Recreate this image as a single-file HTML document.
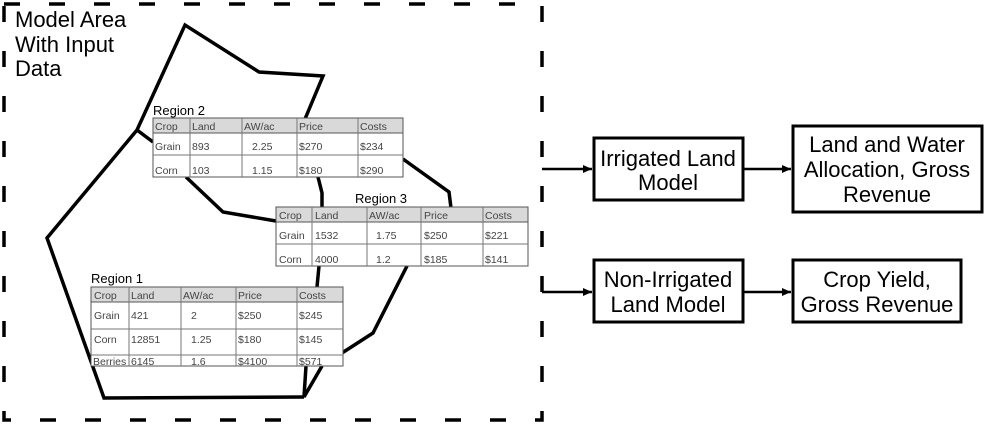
<!DOCTYPE html>
<html><head><style>
html,body{margin:0;padding:0;background:#fff;}
svg{display:block;}
.t{font-family:"Liberation Sans",sans-serif;}
</style></head><body>
<svg width="1000" height="436" viewBox="0 0 1000 436" xmlns="http://www.w3.org/2000/svg">
<defs>
<marker id="ah" markerWidth="10" markerHeight="10" refX="9" refY="5" orient="auto" markerUnits="userSpaceOnUse">
<path d="M0,1 L9,5 L0,9 Z" fill="#000"/>
</marker>
</defs>
<rect x="4" y="4" width="538" height="416" fill="none" stroke="#000" stroke-width="3.5" stroke-dasharray="16 29"/>
<text class="t" x="15" y="27" font-size="22">Model Area</text>
<text class="t" x="15" y="52" font-size="22">With Input</text>
<text class="t" x="15" y="76" font-size="22">Data</text>

<g fill="none" stroke="#000" stroke-width="3.5" stroke-linejoin="miter">
<polyline points="305,119 323,76 259,72 185,25 137,130 47,238 104,398 304,397"/>
<polyline points="137,130 153,142"/>
<polyline points="186,177 223,212 276,221"/>
<polyline points="318,177 322,193 322,208"/>
<polyline points="403,159 449,192 451,208"/>
<polyline points="407,266 373,333 342,353"/>
<polyline points="319,266 317,287"/>
<polyline points="306,366 304,397 322,366"/>
</g>

<text class="t" x="153" y="115" font-size="13">Region 2</text>
<g class="t" font-size="10.5" fill="#444">
<rect x="153" y="118" width="250" height="59" fill="#fff" stroke="#555"/>
<rect x="153" y="118" width="250" height="15" fill="#d9d9d9" stroke="#555"/>
<line x1="153" y1="155" x2="403" y2="155" stroke="#777"/>
<g stroke="#777"><line x1="190" y1="118" x2="190" y2="177"/><line x1="242" y1="118" x2="242" y2="177"/><line x1="297" y1="118" x2="297" y2="177"/><line x1="358" y1="118" x2="358" y2="177"/></g>
<text x="155" y="130">Crop</text><text x="192" y="130">Land</text><text x="244" y="130">AW/ac</text><text x="299" y="130">Price</text><text x="360" y="130">Costs</text>
<text x="155" y="150">Grain</text><text x="192" y="150">893</text><text x="252" y="150">2.25</text><text x="299" y="150">$270</text><text x="360" y="150">$234</text>
<text x="155" y="174">Corn</text><text x="192" y="174">103</text><text x="252" y="174">1.15</text><text x="299" y="174">$180</text><text x="360" y="174">$290</text>
</g>

<text class="t" x="355" y="203" font-size="13">Region 3</text>
<g class="t" font-size="10.5" fill="#444">
<rect x="276" y="207" width="252" height="59" fill="#fff" stroke="#555"/>
<rect x="276" y="207" width="252" height="15" fill="#d9d9d9" stroke="#555"/>
<line x1="276" y1="244" x2="528" y2="244" stroke="#777"/>
<g stroke="#777"><line x1="312" y1="207" x2="312" y2="266"/><line x1="367" y1="207" x2="367" y2="266"/><line x1="421" y1="207" x2="421" y2="266"/><line x1="483" y1="207" x2="483" y2="266"/></g>
<text x="279" y="219">Crop</text><text x="315" y="219">Land</text><text x="369" y="219">AW/ac</text><text x="424" y="219">Price</text><text x="485" y="219">Costs</text>
<text x="279" y="239">Grain</text><text x="315" y="239">1532</text><text x="376" y="239">1.75</text><text x="424" y="239">$250</text><text x="485" y="239">$221</text>
<text x="279" y="263">Corn</text><text x="315" y="263">4000</text><text x="376" y="263">1.2</text><text x="424" y="263">$185</text><text x="485" y="263">$141</text>
</g>

<text class="t" x="91" y="283" font-size="13">Region 1</text>
<g class="t" font-size="10.5" fill="#444">
<rect x="91" y="287" width="252" height="79" fill="#fff" stroke="#555"/>
<rect x="91" y="287" width="252" height="15" fill="#d9d9d9" stroke="#555"/>
<line x1="91" y1="329" x2="343" y2="329" stroke="#777"/>
<line x1="91" y1="355" x2="343" y2="355" stroke="#777"/>
<g stroke="#777"><line x1="129" y1="287" x2="129" y2="366"/><line x1="181" y1="287" x2="181" y2="366"/><line x1="236" y1="287" x2="236" y2="366"/><line x1="297" y1="287" x2="297" y2="366"/></g>
<text x="94" y="299">Crop</text><text x="131" y="299">Land</text><text x="183" y="299">AW/ac</text><text x="238" y="299">Price</text><text x="299" y="299">Costs</text>
<text x="94" y="319">Grain</text><text x="131" y="319">421</text><text x="191" y="319">2</text><text x="238" y="319">$250</text><text x="299" y="319">$245</text>
<text x="94" y="343">Corn</text><text x="131" y="343">12851</text><text x="191" y="343">1.25</text><text x="238" y="343">$180</text><text x="299" y="343">$145</text>
<text x="93" y="365">Berries</text><text x="131" y="365">6145</text><text x="191" y="365">1.6</text><text x="238" y="365">$4100</text><text x="299" y="365">$571</text>
</g>

<g stroke="#000" stroke-width="2.5" fill="none">
<line x1="542" y1="169" x2="592" y2="169" marker-end="url(#ah)"/>
<line x1="743" y1="169" x2="791" y2="169" marker-end="url(#ah)"/>
<line x1="542" y1="292" x2="592" y2="292" marker-end="url(#ah)"/>
<line x1="743" y1="292" x2="791" y2="292" marker-end="url(#ah)"/>
</g>
<g fill="#fff" stroke="#000" stroke-width="3">
<rect x="594" y="138" width="149" height="62"/>
<rect x="793" y="126" width="189" height="86"/>
<rect x="594" y="260" width="149" height="62"/>
<rect x="793" y="260" width="168" height="62"/>
</g>
<g class="t" font-size="22" text-anchor="middle">
<text x="668" y="166">Irrigated Land</text><text x="668" y="190">Model</text>
<text x="887" y="152">Land and Water</text><text x="887" y="177">Allocation, Gross</text><text x="887" y="202">Revenue</text>
<text x="668" y="287">Non-Irrigated</text><text x="668" y="312">Land Model</text>
<text x="877" y="287">Crop Yield,</text><text x="877" y="312">Gross Revenue</text>
</g>
</svg>
</body></html>
